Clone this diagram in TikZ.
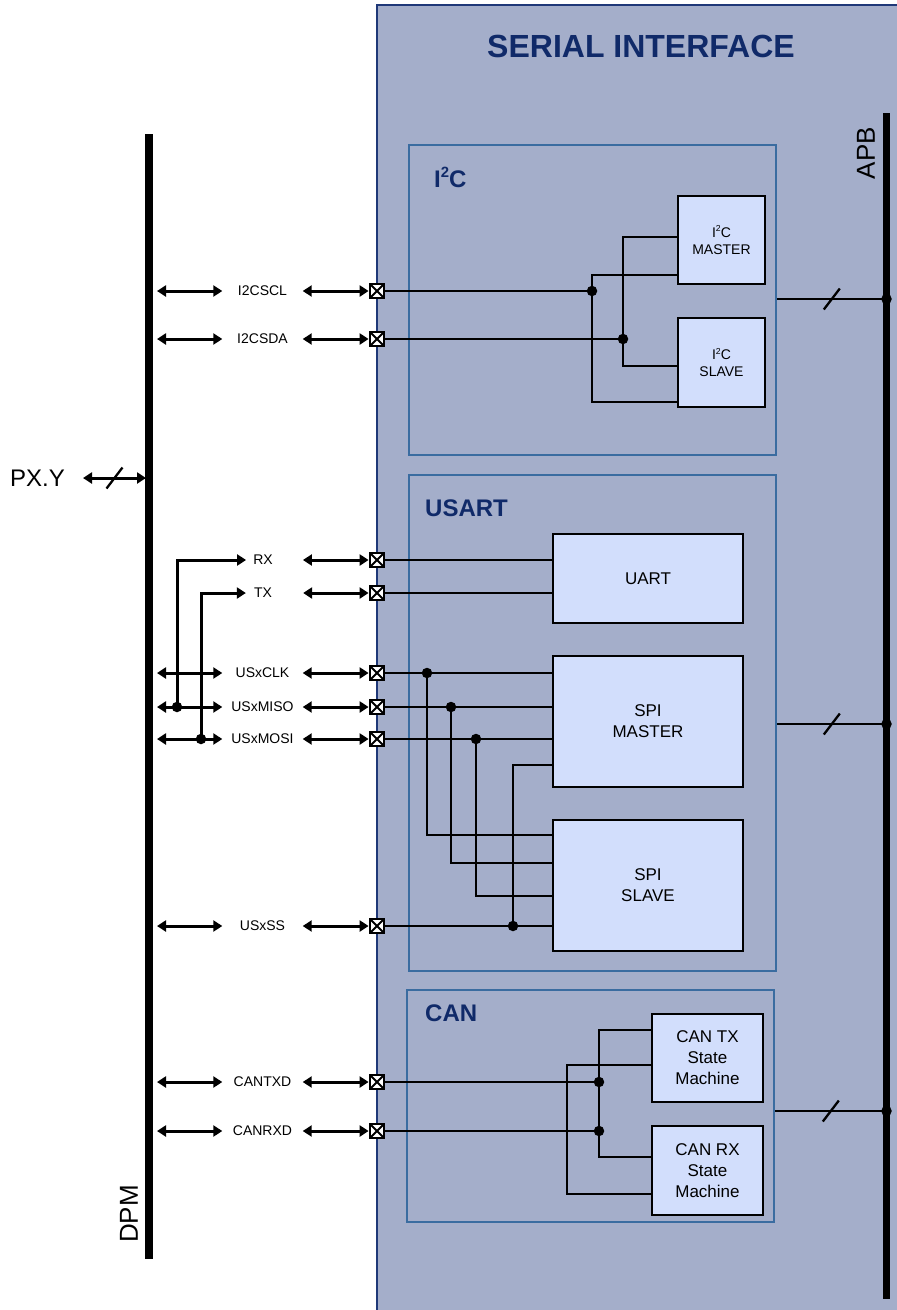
\documentclass[tikz,border=0pt]{standalone}
\usepackage{fontspec}
\setmainfont{Liberation Sans}
\usepackage{tikz}
\usetikzlibrary{arrows.meta,positioning,decorations.markings}
\definecolor{sifill}{RGB}{164,174,202}
\definecolor{siedge}{RGB}{31,56,120}
\definecolor{secedge}{RGB}{58,108,160}
\definecolor{blkfill}{RGB}{210,222,252}
\definecolor{navy}{RGB}{16,42,105}
\newcommand{\sqtwo}{\raisebox{0.42em}{\scalebox{0.62}{2}}}

\begin{document}
\begin{tikzpicture}[x=1pt,y=-1pt,
	wire/.style={line width=2.3pt},
	sig/.style={line width=3pt},
	dbl/.style={sig,{Triangle[length=9pt,width=11pt]}-{Triangle[length=9pt,width=11pt]}},
	sgl/.style={sig,-{Triangle[length=9pt,width=11pt]}},
	pad/.style={draw,fill=white,line width=2.3pt,minimum size=14.5pt,inner sep=0pt,
		path picture={\draw[line width=1.8pt] (path picture bounding box.south west) -- (path picture bounding box.north east)
			(path picture bounding box.north west) -- (path picture bounding box.south east);}},
	dot/.style={circle,fill,inner sep=0pt,minimum size=10.5pt},
	blk/.style={draw,line width=2.3pt,fill=blkfill,align=center,font=\fontsize{17}{21}\selectfont},
	sblk/.style={blk,font=\fontsize{14}{17}\selectfont},
	sec/.style={draw=secedge,line width=2.3pt},
	hdr/.style={font=\fontsize{24}{28}\selectfont\bfseries,text=navy,anchor=west,inner sep=0pt},
	lbl/.style={font=\fontsize{14}{17}\selectfont,minimum width=80pt,inner sep=0pt},
	slbl/.style={font=\fontsize{14}{17}\selectfont,inner sep=0pt},
	busline/.style={line width=7.5pt},
	slash/.style={postaction={decorate},decoration={markings,mark=at position 0.5 with {\draw[wire,-] (-8pt,-10.5pt) -- (8pt,10.5pt);}}}
	]
	\useasboundingbox (0,0) rectangle (897,1310);
	\clip (0,0) rectangle (897,1310);
	
	\draw[draw=siedge,fill=sifill,line width=2.3pt] (377,5) rectangle (920,1330);
	\node[font=\fontsize{32}{36}\selectfont\bfseries,text=navy] (title) at (641,46) {SERIAL INTERFACE};
	
	\node[sec,minimum width=367pt,minimum height=310pt] (secI2C) at (592.5,300) {};
	\node[sec,minimum width=367pt,minimum height=496pt] (secUSART) at (592.5,723) {};
	\node[sec,minimum width=367pt,minimum height=232pt] (secCAN) at (590.5,1106) {};
	\node[hdr] (hI2C) at (434,177) {I\sqtwo C};
	\node[hdr] (hUSART) at (425,508) {USART};
	\node[hdr] (hCAN) at (425,1013) {CAN};
	
	\node[sblk,minimum width=87pt,minimum height=88pt] (i2cm) at (721.5,240) {I\sqtwo C\\MASTER};
	\node[sblk,minimum width=87pt,minimum height=89pt] (i2cs) at (721.5,362.5) {I\sqtwo C\\SLAVE};
	\node[blk,minimum width=190pt,minimum height=89pt] (uart) at (648,578.5) {UART};
	\node[blk,minimum width=190pt,minimum height=131pt] (spim) at (648,721.5) {SPI\\MASTER};
	\node[blk,minimum width=190pt,minimum height=131pt] (spis) at (648,885.5) {SPI\\SLAVE};
	\node[blk,minimum width=111pt,minimum height=88pt] (cantx) at (707.5,1058) {CAN TX\\State\\Machine};
	\node[blk,minimum width=111pt,minimum height=89pt] (canrx) at (707.5,1170.5) {CAN RX\\State\\Machine};
	
	\coordinate (dpm-top) at (149,134);
	\coordinate (dpm-bot) at (149,1259);
	\draw[busline] (dpm-top) -- (dpm-bot);
	\node[rotate=90,font=\fontsize{26}{30}\selectfont] (dpmlbl) at (129,1214) {DPM};
	\coordinate (apb-top) at (886.5,113);
	\coordinate (apb-bot) at (886.5,1299);
	\draw[busline] (apb-top) -- (apb-bot);
	\node[rotate=90,font=\fontsize{26}{30}\selectfont] (apblbl) at (866,153) {APB};
	
	\node[font=\fontsize{24}{28}\selectfont,anchor=west,inner sep=0pt] (pxy) at (10,478) {PX.Y};
	\coordinate (px-tail) at (83,478);
	\coordinate (dpm-px) at (146,478);
	\draw[dbl,slash] (px-tail) -- (dpm-px);
	
	\foreach \n/\y/\t in {scl/291/I2CSCL,sda/339/I2CSDA,clk/673/USxCLK,miso/707/USxMISO,mosi/739/USxMOSI,ss/926/USxSS,ctx/1082/CANTXD,crx/1131/CANRXD}{
		\coordinate (dpm-\n) at (149,\y);
		\node[lbl] (lbl-\n) at (262.5,\y) {\t};
		\node[pad] (pad-\n) at (377,\y) {};
		\draw[dbl,shorten <=8pt] (dpm-\n) -- (lbl-\n.west);
		\draw[dbl] (lbl-\n.east) -- (pad-\n.west);
	}
	\node[slbl] (lbl-rx) at (263,560) {RX};
	\node[pad] (pad-rx) at (377,560) {};
	\node[slbl] (lbl-tx) at (263,593) {TX};
	\node[pad] (pad-tx) at (377,593) {};
	\draw[dbl,shorten <=30pt] (lbl-rx.east) -- (pad-rx.west);
	\draw[dbl,shorten <=31pt] (lbl-tx.east) -- (pad-tx.west);
	\coordinate (j-rxl) at (177,707);
	\coordinate (j-txl) at (201,739);
	\draw[sgl,shorten >=7pt] (j-rxl) |- (lbl-rx.west);
	\draw[sgl,shorten >=8pt] (j-txl) |- (lbl-tx.west);
	
	\coordinate (j-scl) at (592,291);
	\coordinate (j-sda) at (623,339);
	\draw[wire] (pad-scl) -- (j-scl);
	\draw[wire] ([yshift=10pt]i2cm.south west) -| (j-scl) |- ([yshift=6pt]i2cs.south west);
	\draw[wire] (pad-sda) -- (j-sda);
	\draw[wire] ([yshift=-42pt]i2cm.north west) -| (j-sda) |- ([yshift=-49pt]i2cs.north west);
	
	\draw[wire] (pad-rx) -- (pad-rx -| uart.west);
	\draw[wire] (pad-tx) -- (pad-tx -| uart.west);
	\draw[wire] (pad-clk) -- (pad-clk -| spim.west);
	\draw[wire] (pad-miso) -- (pad-miso -| spim.west);
	\draw[wire] (pad-mosi) -- (pad-mosi -| spim.west);
	\draw[wire] (pad-ss) -- (pad-ss -| spis.west);
	\coordinate (j-clk) at (427,673);
	\coordinate (j-miso) at (451,707);
	\coordinate (j-mosi) at (476,739);
	\coordinate (j-ss) at (513,926);
	\draw[wire] (j-clk) |- ([yshift=-16pt]spis.north west);
	\draw[wire] (j-miso) |- ([yshift=-44pt]spis.north west);
	\draw[wire] (j-mosi) |- ([yshift=-77pt]spis.north west);
	\draw[wire] (j-ss) |- ([yshift=23pt]spim.south west);
	
	\coordinate (j-ctx) at (599,1082);
	\coordinate (j-crx) at (599,1131);
	\draw[wire] (pad-ctx) -- (j-ctx);
	\draw[wire] (pad-crx) -- (j-crx);
	\draw[wire] ([yshift=-17pt]cantx.north west) -| (j-ctx) -- (j-crx) |- ([yshift=-32pt]canrx.north west);
	\draw[wire] ([yshift=-52pt]cantx.north west) -- ++(-84,0) |- ([yshift=22pt]canrx.south west);
	
	\coordinate (apb-i2c) at (886.5,299);
	\coordinate (apb-usart) at (886.5,724);
	\coordinate (apb-can) at (886.5,1111);
	\draw[wire,slash] (apb-i2c -| secI2C.east) -- (apb-i2c);
	\draw[wire,slash] (apb-usart -| secUSART.east) -- (apb-usart);
	\draw[wire,slash] (apb-can -| secCAN.east) -- (apb-can);
	
	\foreach \j in {j-rxl,j-txl,j-scl,j-sda,j-clk,j-miso,j-mosi,j-ss,j-ctx,j-crx,apb-i2c,apb-usart,apb-can}
		\node[dot] at (\j) {};
\end{tikzpicture}
\end{document}
